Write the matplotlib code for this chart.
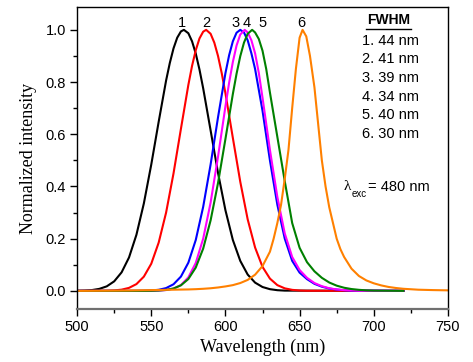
import numpy as np
import matplotlib
matplotlib.use("Agg")
import matplotlib.pyplot as plt
from matplotlib.ticker import MultipleLocator

# emission spectra (denser points near the peaks)
wl_1 = [500, 505, 510, 515, 520, 525, 530, 535, 540, 545, 550, 555, 560, 562.5,
        565, 567.5, 570, 572, 575, 577.5, 580, 582.5, 585, 590, 595, 600, 605,
        610, 615, 620, 625, 630, 635, 640, 720]
int_1 = [0.0004, 0.0012, 0.0031, 0.0077, 0.0174, 0.0365, 0.071, 0.128, 0.215,
         0.335, 0.484, 0.648, 0.806, 0.873, 0.929, 0.970, 0.994, 1.0, 0.987,
         0.956, 0.909, 0.848, 0.776, 0.615, 0.452, 0.309, 0.195, 0.115, 0.0625,
         0.0316, 0.0148, 0.0065, 0.0026, 0.001, 0.0]

wl_2 = [500, 510, 515, 520, 525, 530, 535, 540, 545, 550, 555, 560, 565, 570,
        575, 577.5, 580, 582.5, 585, 587, 590, 592.5, 595, 597.5, 600, 605, 610,
        615, 620, 625, 630, 635, 640, 645, 650, 655, 720]
int_2 = [0.0, 0.0001, 0.0002, 0.0006, 0.0018, 0.0047, 0.0115, 0.026, 0.0545,
         0.104, 0.185, 0.300, 0.450, 0.621, 0.789, 0.862, 0.922, 0.967, 0.993,
         1.0, 0.985, 0.951, 0.900, 0.834, 0.757, 0.586, 0.418, 0.274, 0.166,
         0.092, 0.047, 0.022, 0.0097, 0.0039, 0.0014, 0.0005, 0.0]

wl_3 = [500, 540, 545, 550, 555, 560, 565, 570, 575, 580, 585, 590, 595, 600,
        602.5, 605, 607.5, 610, 612.5, 615, 617.5, 620, 625, 630, 635, 640, 645,
        650, 655, 660, 665, 670, 675, 680, 685, 720]
int_3 = [0.0, 0.0, 0.0005, 0.0015, 0.0041, 0.0107, 0.0253, 0.0548, 0.108,
         0.195, 0.322, 0.484, 0.665, 0.834, 0.903, 0.956, 0.989, 1.0, 0.99,
         0.96, 0.91, 0.85, 0.69, 0.50, 0.33, 0.20, 0.115, 0.07, 0.045, 0.027,
         0.016, 0.009, 0.005, 0.0025, 0.001, 0.0]

wl_4 = [500, 545, 550, 555, 560, 565, 570, 575, 580, 585, 590, 595, 600, 602.5,
        605, 607.5, 610, 613, 615, 617.5, 620, 622.5, 625, 630, 635, 640, 645,
        650, 655, 660, 665, 670, 675, 680, 685, 690, 720]
int_4 = [0.0, 0.0, 0.0003, 0.001, 0.0031, 0.0088, 0.0225, 0.0516, 0.107, 0.200,
         0.338, 0.514, 0.707, 0.798, 0.877, 0.940, 0.982, 1.0, 0.99, 0.96,
         0.91, 0.835, 0.74, 0.54, 0.36, 0.22, 0.13, 0.08, 0.05, 0.03, 0.018,
         0.01, 0.0055, 0.003, 0.0015, 0.0005, 0.0]

wl_5 = [500, 545, 550, 555, 560, 565, 570, 575, 580, 585, 590, 595, 600, 605,
        607.5, 610, 612.5, 615, 618, 620, 622.5, 625, 627.5, 630, 635, 640, 645,
        650, 655, 660, 665, 670, 675, 680, 685, 690, 695, 700, 720]
int_5 = [0.0, 0.0, 0.0004, 0.0013, 0.0036, 0.0091, 0.0212, 0.0454, 0.0894,
         0.162, 0.270, 0.413, 0.582, 0.754, 0.832, 0.899, 0.951, 0.985, 1.0,
         0.99, 0.965, 0.92, 0.85, 0.76, 0.59, 0.42, 0.26, 0.165, 0.11, 0.075,
         0.05, 0.032, 0.02, 0.012, 0.007, 0.004, 0.002, 0.001, 0.0]

wl_6 = [500, 515, 525, 535, 545, 555, 565, 575, 580, 585, 590, 595, 600, 605,
        610, 615, 620, 625, 630, 632.5, 635, 637.5, 640, 642.5, 645, 647.5, 650,
        652, 654.5, 657, 660, 662.5, 665, 667.5, 670, 672.5, 675, 677.5, 680,
        685, 690, 695, 700, 705, 710, 715, 720, 730, 740, 750]
int_6 = [0.0, 0.0005, 0.001, 0.0015, 0.0025, 0.0035, 0.0045, 0.0055, 0.0065,
         0.008, 0.010, 0.013, 0.017, 0.022, 0.03, 0.042, 0.062, 0.095, 0.15,
         0.20, 0.26, 0.33, 0.43, 0.54, 0.70, 0.85, 0.97, 1.0, 0.975, 0.90, 0.78,
         0.64, 0.50, 0.40, 0.32, 0.26, 0.20, 0.16, 0.13, 0.085, 0.057, 0.04,
         0.029, 0.021, 0.015, 0.011, 0.008, 0.0045, 0.003, 0.002]

SERIES = [
    (wl_1, int_1, "black"),
    (wl_2, int_2, "red"),
    (wl_3, int_3, "blue"),
    (wl_4, int_4, "magenta"),
    (wl_5, int_5, "green"),
    (wl_6, int_6, "#ff8000"),
]

PEAK_LABELS = ["1", "2", "3", "4", "5", "6"]
PEAK_LABEL_X = [571, 587, 606.5, 614, 625, 651]
FWHM_LINES = ["1. 44 nm", "2. 41 nm", "3. 39 nm", "4. 34 nm", "5. 40 nm", "6. 30 nm"]

SANS = "Liberation Sans"
SERIF = "Liberation Serif"


def main():
    fig = plt.figure(figsize=(4.73, 3.62), dpi=100)
    ax = fig.add_axes([0.163, 0.146, 0.784, 0.835])

    for wl, inten, color in SERIES:
        ax.plot(wl, inten, color=color, lw=1.5)

    ax.set_xlim(500, 750)
    ax.set_ylim(-0.07, 1.088)
    ax.xaxis.set_major_locator(MultipleLocator(50))
    ax.xaxis.set_minor_locator(MultipleLocator(25))
    ax.yaxis.set_minor_locator(MultipleLocator(0.1))
    yt = np.arange(0, 1.01, 0.2)
    ax.set_yticks(yt)
    ax.set_yticklabels([f"{v:.1f}" for v in yt])

    ax.tick_params(which="both", direction="out", top=False, right=False,
                   labelsize=10.5, width=1)
    ax.tick_params(which="major", length=5, pad=3)
    ax.tick_params(which="minor", length=3)
    for lab in ax.get_xticklabels() + ax.get_yticklabels():
        lab.set_fontfamily(SANS)

    ax.spines["bottom"].set_color("#707070")
    ax.spines["bottom"].set_linewidth(1.6)
    for side in ["left", "top", "right"]:
        ax.spines[side].set_linewidth(1.0)

    ax.set_xlabel("Wavelength (nm)", fontfamily=SERIF, fontsize=13, labelpad=3)
    ax.set_ylabel("Normalized intensity", fontfamily=SERIF, fontsize=13, labelpad=6)

    for label, x in zip(PEAK_LABELS, PEAK_LABEL_X):
        ax.text(x, 1.0, label, ha="center", va="bottom", fontsize=10.5,
                fontfamily=SANS)

    # FWHM list in the top right corner
    ax.text(0.839, 0.955, "FWHM", transform=ax.transAxes, ha="center",
            va="center", fontsize=10, fontweight="bold", fontfamily=SANS)
    ax.plot([0.778, 0.900], [0.928, 0.928], transform=ax.transAxes,
            color="black", lw=1.0)
    for i, line in enumerate(FWHM_LINES):
        ax.text(0.768, 0.888 - i * 0.0615, line, transform=ax.transAxes,
                ha="left", va="center", fontsize=10.5, fontfamily=SANS)

    # excitation wavelength
    ax.text(0.720, 0.406, "\u03bb", transform=ax.transAxes, ha="left",
            va="center", fontsize=11, fontfamily=SERIF)
    ax.text(0.741, 0.380, "exc", transform=ax.transAxes, ha="left",
            va="center", fontsize=7, fontfamily=SANS)
    ax.text(0.784, 0.404, "= 480 nm", transform=ax.transAxes,
            ha="left", va="center", fontsize=10.5, fontfamily=SANS)

    fig.savefig("out.png", dpi=100)
    plt.close(fig)


if __name__ == "__main__":
    main()
